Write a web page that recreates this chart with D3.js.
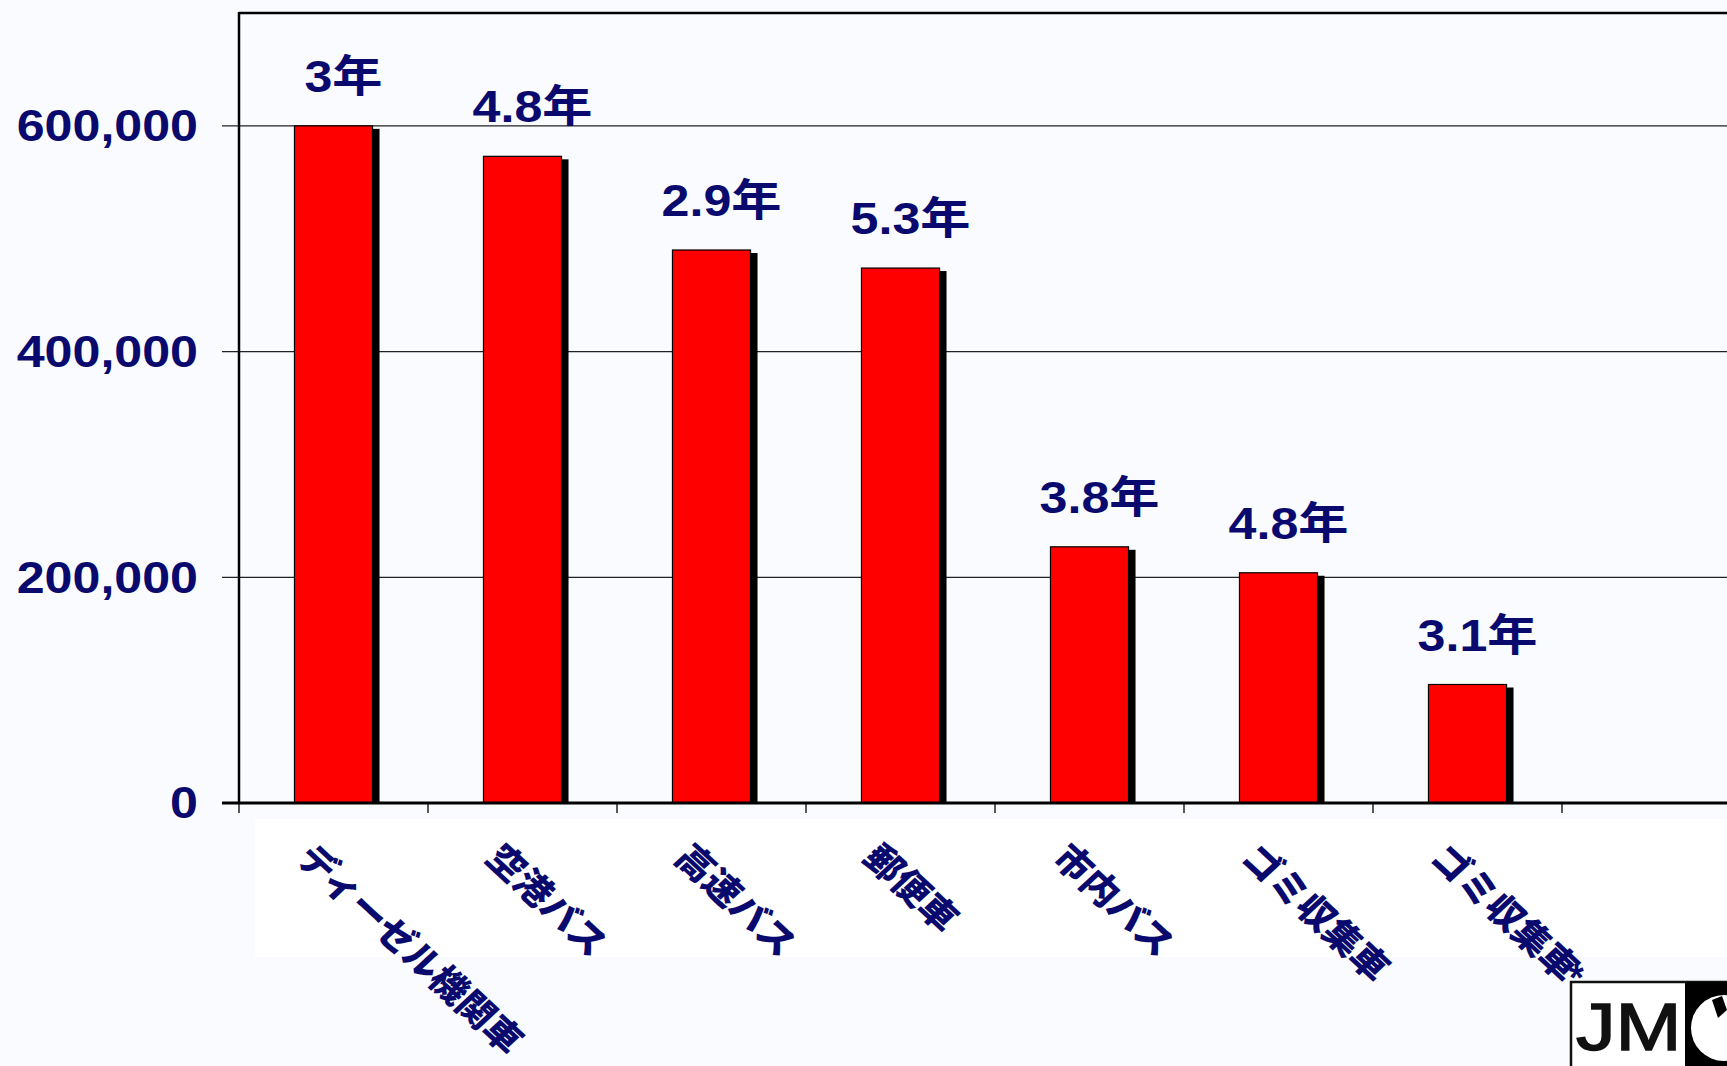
<!DOCTYPE html>
<html>
<head>
<meta charset="utf-8">
<script src="https://cdn.jsdelivr.net/npm/d3@7"></script>
<style>
  html, body { margin: 0; padding: 0; background: #F9FBFF; }
  svg { display: block; }
  text { font-family: "Liberation Sans", Arial, "Noto Sans CJK JP", sans-serif; font-weight: bold; }
</style>
</head>
<body>
<svg id="chart" width="1727" height="1066"></svg>
<script>
// Vehicle categories (the last slot is an empty band at the right of the axis)
const categories = ["ディーゼル機関車", "空港バス", "高速バス", "郵便車", "市内バス", "ゴミ収集車", "ゴミ収集車*", ""];
// Bar values
const values = [600000, 573000, 490000, 474000, 227000, 204000, 105000];
// Annotations above each bar
const yearLabels = ["3年", "4.8年", "2.9年", "5.3年", "3.8年", "4.8年", "3.1年"];
// Y axis ticks
const yTicks = [0, 200000, 400000, 600000];

const navy = "#0a0a6e";
const stretch = 1.14;

const svg = d3.select("#chart");
const W = 1727, H = 1066;

svg.append("rect").attr("width", W).attr("height", H).attr("fill", "#F9FBFF");

// white strip behind the category labels
svg.append("rect").attr("x", 255).attr("y", 819).attr("width", W - 255).attr("height", 138).attr("fill", "#FFFFFF");

const x = d3.scaleBand().domain(categories).range([239, 239 + 8 * 189]).paddingInner(0).paddingOuter(0);
const y = d3.scaleLinear().domain([0, 700000]).range([803, 13]);

// gridlines
svg.append("g").selectAll("line").data(yTicks.filter(d => d > 0)).join("line")
  .attr("x1", 222).attr("x2", W + 40)
  .attr("y1", d => y(d)).attr("y2", d => y(d))
  .attr("stroke", "#222").attr("stroke-width", 1.3);

// top frame line
svg.append("line").attr("x1", 239).attr("x2", W + 40).attr("y1", y(700000)).attr("y2", y(700000))
  .attr("stroke", "#000").attr("stroke-width", 2.5);

// y tick labels
svg.append("g").selectAll("text").data(yTicks).join("text")
  .attr("transform", d => `translate(198,${y(d)}) scale(${stretch},1)`)
  .attr("text-anchor", "end").attr("dominant-baseline", "central")
  .attr("font-size", 44).attr("fill", navy)
  .text(d => d3.format(",")(d));

const bw = x.bandwidth() * 0.413;
const cx = (d, i) => x(categories[i]) + x.bandwidth() / 2;

// bar shadows
svg.append("g").selectAll("rect").data(values).join("rect")
  .attr("x", (d, i) => cx(d, i) - bw / 2 + 7)
  .attr("y", d => y(d) + 3)
  .attr("width", bw)
  .attr("height", d => y(0) - y(d) - 3)
  .attr("fill", "#000");

// bars
svg.append("g").selectAll("rect").data(values).join("rect")
  .attr("x", (d, i) => cx(d, i) - bw / 2)
  .attr("y", d => y(d))
  .attr("width", bw)
  .attr("height", d => y(0) - y(d))
  .attr("fill", "#FF0000").attr("stroke", "#000").attr("stroke-width", 1.2);

// left axis
svg.append("line").attr("x1", 239).attr("x2", 239).attr("y1", y(700000) - 1).attr("y2", y(0))
  .attr("stroke", "#000").attr("stroke-width", 2.5);

// x axis baseline with ticks
svg.append("line").attr("x1", 222).attr("x2", W + 40).attr("y1", y(0)).attr("y2", y(0))
  .attr("stroke", "#000").attr("stroke-width", 3);
svg.append("g").selectAll("line").data(categories).join("line")
  .attr("x1", d => x(d)).attr("x2", d => x(d))
  .attr("y1", y(0)).attr("y2", y(0) + 10)
  .attr("stroke", "#000").attr("stroke-width", 1.3);

// annotations above bars
svg.append("g").selectAll("text").data(values).join("text")
  .attr("transform", (d, i) => `translate(${cx(d, i) + 10},${y(d) - 34}) scale(${stretch},1)`)
  .attr("text-anchor", "middle")
  .attr("font-size", 44).attr("fill", navy)
  .text((d, i) => yearLabels[i]);

// logo in the bottom right corner
const logo = svg.append("g");
logo.append("rect").attr("x", 1571).attr("y", 982).attr("width", 170).attr("height", 100)
  .attr("fill", "#fff").attr("stroke", "#111").attr("stroke-width", 2.5);
logo.append("rect").attr("x", 1685).attr("y", 982).attr("width", 50).attr("height", 100).attr("fill", "#000");
logo.append("text").attr("transform", "translate(1576,1050) scale(1.2,1)")
  .attr("font-size", 66).style("font-weight", "normal").attr("stroke", "#111").attr("stroke-width", 1.5)
  .attr("fill", "#111").text("JM");
logo.append("circle").attr("cx", 1724).attr("cy", 1028).attr("r", 33).attr("fill", "#fff");
logo.append("path").attr("d", "M1712,1000 L1722,996 L1727,1010 L1718,1018 Z").attr("fill", "#000");

// rotated category labels
const labelY = 849, labelSx = 1.08, cos45 = Math.SQRT1_2;
const labelX = d => x(d) + x.bandwidth() / 2 - 27;
const catLabels = svg.append("g").selectAll("text").data(categories.filter(c => c)).join("text")
  .attr("transform", d => `translate(${labelX(d)},${labelY}) scale(${labelSx},1) rotate(45)`)
  .attr("text-anchor", "start").attr("dominant-baseline", "central")
  .attr("font-size", 35).attr("fill", navy)
  .style("font-family", "\"Noto Sans CJK JP\", sans-serif").style("font-weight", 900)
  .text(d => d.replace(/\*$/, ""));

// a trailing asterisk is set upright at the end of its label, as a footnote mark
catLabels.filter(d => d.endsWith("*")).each(function (d) {
  const len = this.getComputedTextLength();
  const ex = labelX(d) + len * cos45 * labelSx;
  const ey = labelY + len * cos45;
  svg.append("text")
    .attr("x", ex - 5).attr("y", ey + 18)
    .attr("text-anchor", "start")
    .attr("font-size", 38).attr("fill", navy)
    .style("font-weight", "bold")
    .text("*");
});
</script>
</body>
</html>
